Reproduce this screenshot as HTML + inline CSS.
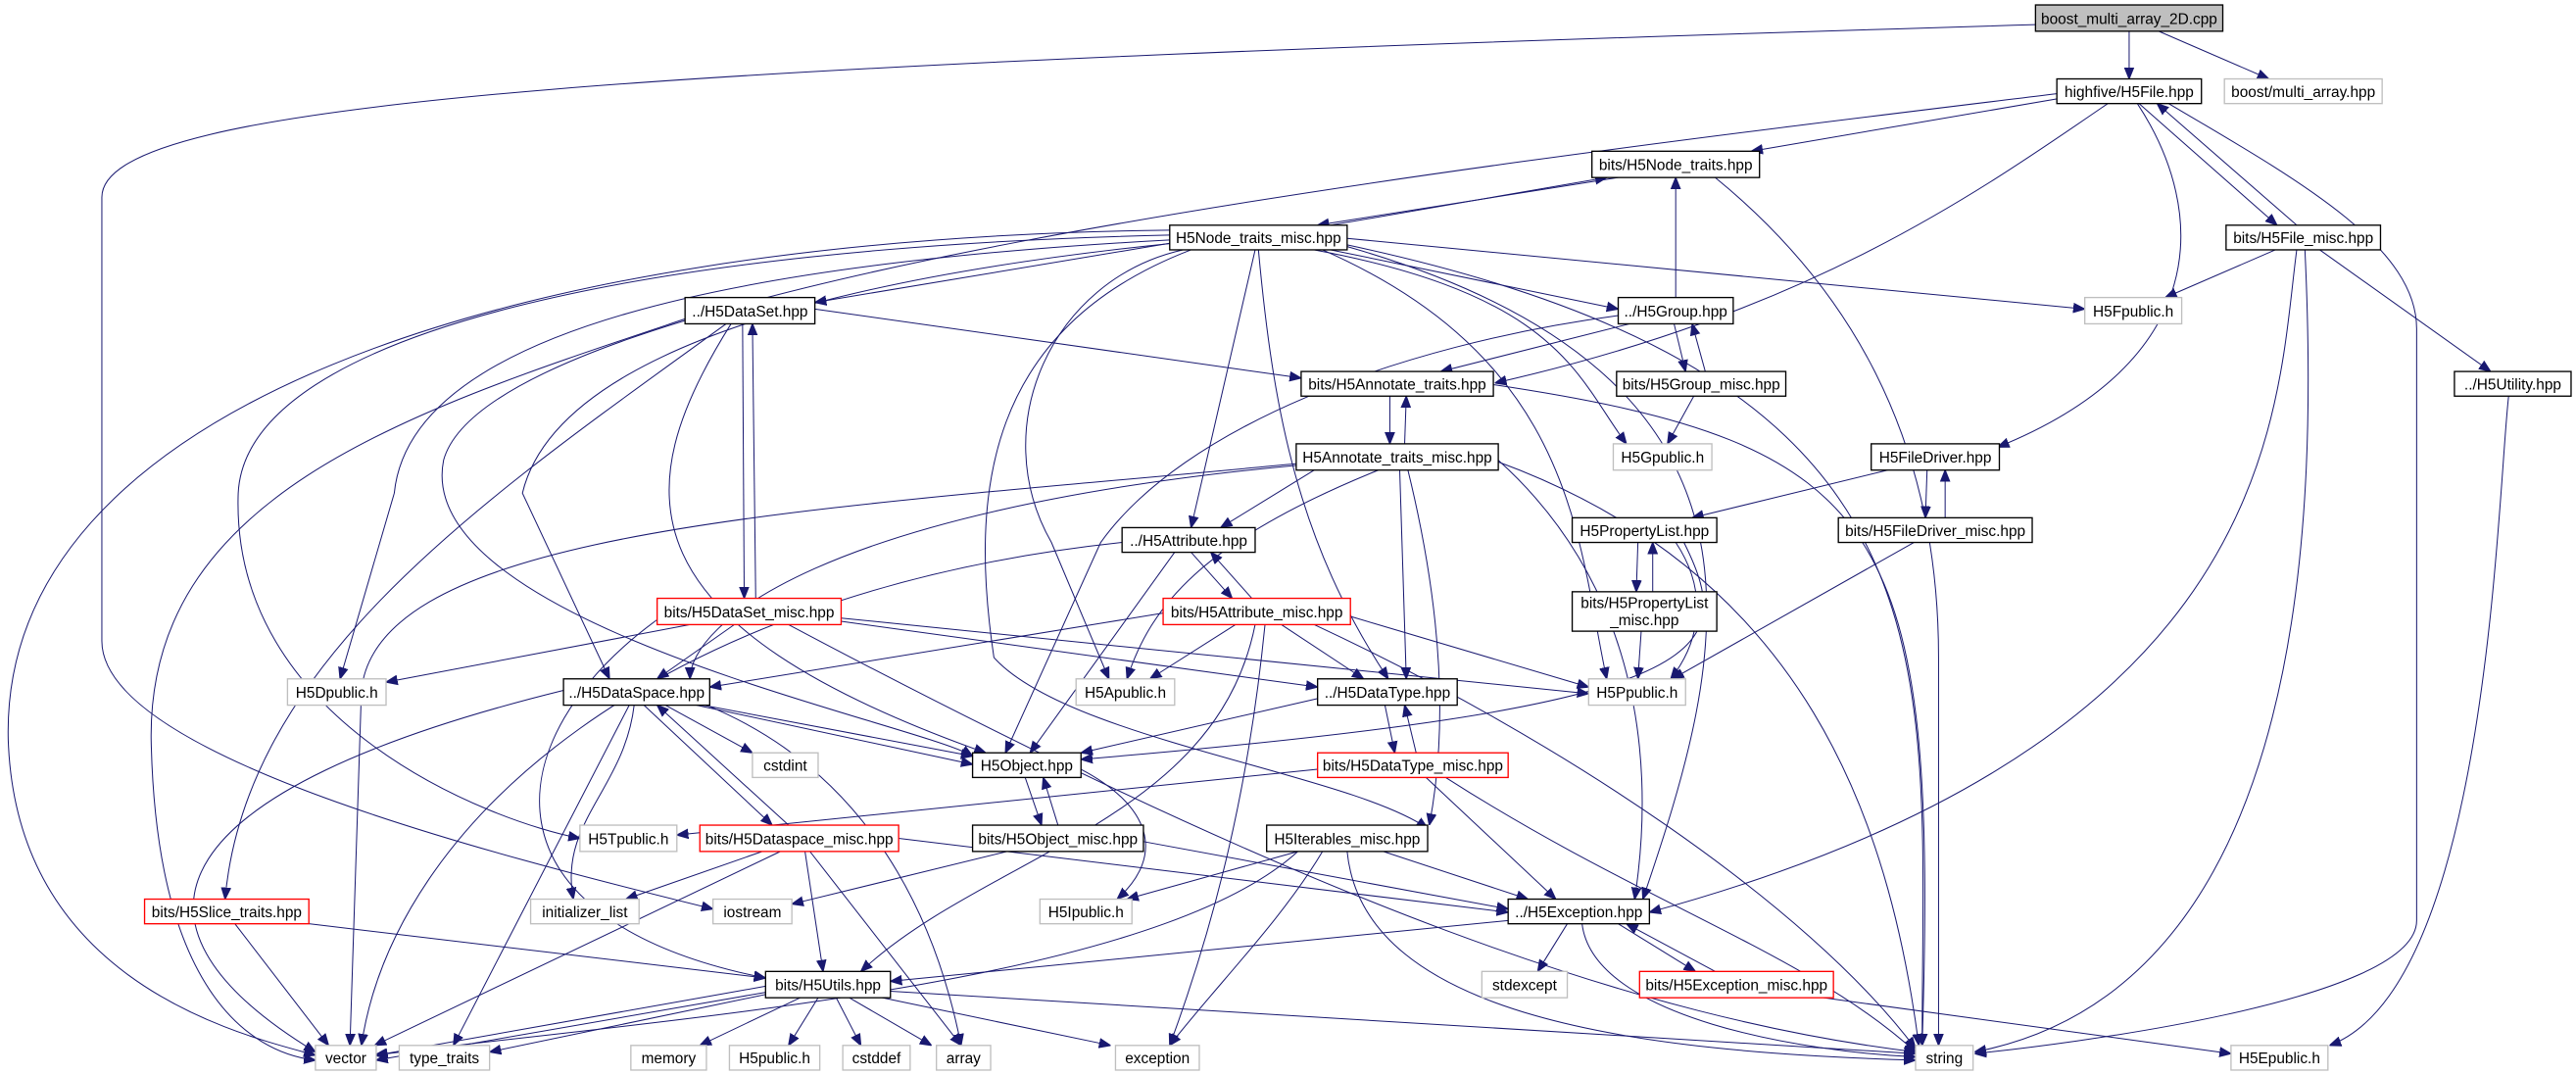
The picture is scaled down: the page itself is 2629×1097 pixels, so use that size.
<!DOCTYPE html>
<html><head><meta charset="utf-8"><style>
html,body{margin:0;padding:0;background:#fff;}
svg{display:block;}
text{font-family:"Liberation Sans",sans-serif;font-size:9.2px;fill:#000;text-anchor:middle;}
.e{fill:none;stroke:#191970;stroke-width:0.6;}
.n{fill:#fff;stroke:#000;stroke-width:0.8;}
.g{fill:#fff;stroke:#bfbfbf;stroke-width:0.8;}
.r{fill:#fff;stroke:#ff0000;stroke-width:0.8;}
</style></head><body>
<svg width="2629" height="1097" viewBox="0 0 1568 654" preserveAspectRatio="none" xmlns="http://www.w3.org/2000/svg">
<defs><marker id="a" viewBox="0 0 10 10" refX="10" refY="5" markerWidth="7" markerHeight="7" orient="auto" markerUnits="userSpaceOnUse"><path d="M0,1 L10,5 L0,9 z" fill="#191970" stroke="#191970"/></marker></defs>
<g class="e" marker-end="url(#a)">
<path d="M1296,19 L1296,48"/>
<path d="M1314,19 L1381,48"/>
<path d="M1239,15 C400,40 62,60 62,120 L62,390 C62,460 300,520 434,553"/>
<path d="M1253,60 L1066,92"/>
<path d="M1252,57 C900,100 300,170 270,280 C250,380 560,440 592,460"/>
<path d="M1283,63 C1200,120 1100,190 910,233"/>
<path d="M1301,63 C1345,130 1345,220 1216,272"/>
<path d="M1302,63 L1386,137"/>
<path d="M1398,137 L1313,63"/>
<path d="M1320,63 C1400,110 1471,150 1471,200 L1471,560 C1471,610 1250,636 1202,641"/>
<path d="M985,108 L802,137"/>
<path d="M810,137 L978,108"/>
<path d="M1044,108 C1120,170 1180,260 1180,400 L1180,636"/>
<path d="M712,148 L496,184"/>
<path d="M810,152 L985,188"/>
<path d="M820,145 L1269,188"/>
<path d="M712,140 C300,145 0,250 5,450 C10,600 150,630 192,642"/>
<path d="M712,143 C400,150 150,200 145,300 C140,440 300,500 353,510"/>
<path d="M712,146 C450,160 250,200 240,300 L207,413"/>
<path d="M714,148 C400,180 330,250 318,300 L371,413"/>
<path d="M764,152 L725,321"/>
<path d="M766,152 C775,250 790,330 845,413"/>
<path d="M720,152 C640,170 600,260 640,330 L675,413"/>
<path d="M725,152 C600,200 590,300 605,400 C650,450 820,470 869,504"/>
<path d="M800,152 C950,180 960,230 990,270"/>
<path d="M805,152 C960,220 960,330 978,413"/>
<path d="M820,150 C1100,230 1050,400 1000,547"/>
<path d="M820,149 C1200,230 1170,400 1170,636"/>
<path d="M1385,152 L1318,181"/>
<path d="M1398,152 C1385,250 1390,450 1004,555"/>
<path d="M1403,152 C1410,300 1410,600 1202,640"/>
<path d="M1412,152 L1516,226"/>
<path d="M1527,241 C1520,300 1515,600 1418,636"/>
<path d="M1020,181 L1020,108"/>
<path d="M992,197 L877,226"/>
<path d="M985,192 C850,210 720,260 670,330 L612,458"/>
<path d="M1019,197 L1026,226"/>
<path d="M1038,226 L1030,197"/>
<path d="M1031,241 L1015,270"/>
<path d="M846,241 L846,270"/>
<path d="M855,270 L856,241"/>
<path d="M909,234 C1150,270 1180,320 1170,636"/>
<path d="M800,286 L743,321"/>
<path d="M790,283 C500,310 420,380 420,413"/>
<path d="M790,282 C500,310 230,320 220,420 L213,636"/>
<path d="M839,286 C730,330 700,370 686,413"/>
<path d="M852,286 L856,413"/>
<path d="M857,286 C880,380 880,450 870,502"/>
<path d="M912,280 C990,350 1010,450 995,547"/>
<path d="M912,281 C1100,350 1150,500 1168,636"/>
<path d="M1149,286 L1030,315"/>
<path d="M1173,286 L1172,315"/>
<path d="M1184,315 L1184,286"/>
<path d="M1165,330 L1018,413"/>
<path d="M997,330 L996,360"/>
<path d="M1006,360 L1006,330"/>
<path d="M1020,330 C1040,360 1035,390 1017,413"/>
<path d="M1025,330 C1060,400 1040,430 658,462"/>
<path d="M999,384 L997,413"/>
<path d="M496,188 L792,230"/>
<path d="M452,197 L453,364"/>
<path d="M460,364 L458,197"/>
<path d="M417,194 C250,250 90,300 92,450 C95,600 150,640 192,645"/>
<path d="M442,197 C300,300 150,400 137,547"/>
<path d="M445,197 C380,300 380,380 600,458"/>
<path d="M420,380 L235,415"/>
<path d="M447,380 L400,413"/>
<path d="M512,376 L967,422"/>
<path d="M512,378 L802,418"/>
<path d="M480,380 C800,550 1000,620 1166,640"/>
<path d="M400,377 C300,450 290,560 466,595"/>
<path d="M725,336 L750,364"/>
<path d="M762,364 L737,336"/>
<path d="M715,336 L627,458"/>
<path d="M683,330 C400,360 240,500 220,636"/>
<path d="M708,373 L432,418"/>
<path d="M752,380 L700,413"/>
<path d="M780,380 L830,413"/>
<path d="M822,375 L967,418"/>
<path d="M764,380 C740,500 600,520 524,591"/>
<path d="M800,380 C950,450 1100,550 1166,638"/>
<path d="M770,380 C760,480 740,560 712,636"/>
<path d="M428,429 L592,460"/>
<path d="M424,429 L592,465"/>
<path d="M405,429 L458,458"/>
<path d="M392,429 L470,502"/>
<path d="M480,502 L400,429"/>
<path d="M343,420 C100,480 60,560 192,640"/>
<path d="M383,429 L276,636"/>
<path d="M386,429 C380,480 340,500 349,547"/>
<path d="M430,429 C530,470 570,560 585,636"/>
<path d="M464,518 L381,547"/>
<path d="M475,518 L228,636"/>
<path d="M490,518 L501,591"/>
<path d="M493,518 L585,636"/>
<path d="M547,510 L918,555"/>
<path d="M624,473 L634,502"/>
<path d="M644,502 L635,473"/>
<path d="M658,468 C700,490 710,520 680,547"/>
<path d="M613,518 L482,550"/>
<path d="M696,512 L918,553"/>
<path d="M790,518 L686,547"/>
<path d="M842,518 L930,547"/>
<path d="M790,518 C700,600 400,620 228,642"/>
<path d="M805,518 C780,560 740,600 712,636"/>
<path d="M820,518 C830,620 1000,640 1166,645"/>
<path d="M802,425 L658,458"/>
<path d="M843,429 L849,458"/>
<path d="M862,458 L855,429"/>
<path d="M802,468 L412,508"/>
<path d="M868,473 L947,547"/>
<path d="M880,473 C1000,550 1100,580 1166,640"/>
<path d="M188,562 L466,595"/>
<path d="M143,562 L200,636"/>
<path d="M918,560 L542,597"/>
<path d="M954,562 L936,591"/>
<path d="M985,562 L1032,591"/>
<path d="M1044,591 L990,562"/>
<path d="M963,562 C970,620 1100,640 1166,643"/>
<path d="M1110,607 L1358,641"/>
<path d="M466,600 L229,642"/>
<path d="M470,603 L229,645"/>
<path d="M466,605 L298,640"/>
<path d="M487,607 L426,636"/>
<path d="M498,607 L480,636"/>
<path d="M509,607 L524,636"/>
<path d="M517,607 L567,636"/>
<path d="M537,607 L676,636"/>
<path d="M542,603 L1166,641"/>
</g>
<g>
<rect x="1239" y="3" width="114" height="16" fill="#bfbfbf" stroke="#000" stroke-width="0.8"/><text x="1296" y="14.5">boost_multi_array_2D.cpp</text>
<rect class="n" x="1252" y="48" width="88" height="15"/><text x="1296" y="59">highfive/H5File.hpp</text>
<rect class="g" x="1354" y="48" width="96" height="15"/><text x="1402" y="59">boost/multi_array.hpp</text>
<rect class="n" x="969" y="92" width="102" height="16"/><text x="1020" y="103.5">bits/H5Node_traits.hpp</text>
<rect class="n" x="712" y="137" width="108" height="15"/><text x="766" y="148">H5Node_traits_misc.hpp</text>
<rect class="n" x="1355" y="137" width="94" height="15"/><text x="1402" y="148">bits/H5File_misc.hpp</text>
<rect class="n" x="417" y="181" width="79" height="16"/><text x="456.5" y="192.5">../H5DataSet.hpp</text>
<rect class="n" x="985" y="181" width="70" height="16"/><text x="1020" y="192.5">../H5Group.hpp</text>
<rect class="g" x="1269" y="181" width="59" height="16"/><text x="1298.5" y="192.5">H5Fpublic.h</text>
<rect class="n" x="792" y="226" width="117" height="15"/><text x="850.5" y="237">bits/H5Annotate_traits.hpp</text>
<rect class="n" x="984" y="226" width="103" height="15"/><text x="1035.5" y="237">bits/H5Group_misc.hpp</text>
<rect class="n" x="1494" y="226" width="71" height="15"/><text x="1529.5" y="237">../H5Utility.hpp</text>
<rect class="n" x="789" y="270" width="123" height="16"/><text x="850.5" y="281.5">H5Annotate_traits_misc.hpp</text>
<rect class="g" x="982" y="270" width="60" height="16"/><text x="1012" y="281.5">H5Gpublic.h</text>
<rect class="n" x="1139" y="270" width="78" height="16"/><text x="1178" y="281.5">H5FileDriver.hpp</text>
<rect class="n" x="683" y="321" width="81" height="15"/><text x="723.5" y="332">../H5Attribute.hpp</text>
<rect class="n" x="957" y="315" width="88" height="15"/><text x="1001" y="326">H5PropertyList.hpp</text>
<rect class="n" x="1119" y="315" width="118" height="15"/><text x="1178" y="326">bits/H5FileDriver_misc.hpp</text>
<rect class="r" x="400" y="364" width="112" height="16"/><text x="456" y="375.5">bits/H5DataSet_misc.hpp</text>
<rect class="r" x="708" y="364" width="114" height="16"/><text x="765" y="375.5">bits/H5Attribute_misc.hpp</text>
<rect class="n" x="957" y="360" width="88" height="24"/><text x="1001" y="370">bits/H5PropertyList</text><text x="1001" y="380.5">_misc.hpp</text>
<rect class="g" x="175" y="413" width="60" height="16"/><text x="205" y="424.5">H5Dpublic.h</text>
<rect class="n" x="343" y="413" width="89" height="16"/><text x="387.5" y="424.5">../H5DataSpace.hpp</text>
<rect class="g" x="655" y="413" width="60" height="16"/><text x="685" y="424.5">H5Apublic.h</text>
<rect class="n" x="802" y="413" width="85" height="16"/><text x="844.5" y="424.5">../H5DataType.hpp</text>
<rect class="g" x="967" y="413" width="59" height="16"/><text x="996.5" y="424.5">H5Ppublic.h</text>
<rect class="g" x="458" y="458" width="40" height="15"/><text x="478" y="469">cstdint</text>
<rect class="n" x="592" y="458" width="66" height="15"/><text x="625" y="469">H5Object.hpp</text>
<rect class="r" x="802" y="458" width="116" height="15"/><text x="860" y="469">bits/H5DataType_misc.hpp</text>
<rect class="g" x="353" y="502" width="59" height="16"/><text x="382.5" y="513.5">H5Tpublic.h</text>
<rect class="r" x="426" y="502" width="121" height="16"/><text x="486.5" y="513.5">bits/H5Dataspace_misc.hpp</text>
<rect class="n" x="592" y="502" width="104" height="16"/><text x="644" y="513.5">bits/H5Object_misc.hpp</text>
<rect class="n" x="771" y="502" width="98" height="16"/><text x="820" y="513.5">H5Iterables_misc.hpp</text>
<rect class="r" x="88" y="547" width="100" height="15"/><text x="138" y="558">bits/H5Slice_traits.hpp</text>
<rect class="g" x="323" y="547" width="66" height="15"/><text x="356" y="558">initializer_list</text>
<rect class="g" x="434" y="547" width="48" height="15"/><text x="458" y="558">iostream</text>
<rect class="g" x="633" y="547" width="56" height="15"/><text x="661" y="558">H5Ipublic.h</text>
<rect class="n" x="918" y="547" width="86" height="15"/><text x="961" y="558">../H5Exception.hpp</text>
<rect class="n" x="466" y="591" width="76" height="16"/><text x="504" y="602.5">bits/H5Utils.hpp</text>
<rect class="g" x="902" y="591" width="52" height="16"/><text x="928" y="602.5">stdexcept</text>
<rect class="r" x="998" y="591" width="118" height="16"/><text x="1057" y="602.5">bits/H5Exception_misc.hpp</text>
<rect class="g" x="192" y="636" width="37" height="15"/><text x="210.5" y="647">vector</text>
<rect class="g" x="243" y="636" width="55" height="15"/><text x="270.5" y="647">type_traits</text>
<rect class="g" x="384" y="636" width="46" height="15"/><text x="407" y="647">memory</text>
<rect class="g" x="444" y="636" width="55" height="15"/><text x="471.5" y="647">H5public.h</text>
<rect class="g" x="513" y="636" width="41" height="15"/><text x="533.5" y="647">cstddef</text>
<rect class="g" x="570" y="636" width="33" height="15"/><text x="586.5" y="647">array</text>
<rect class="g" x="679" y="636" width="51" height="15"/><text x="704.5" y="647">exception</text>
<rect class="g" x="1166" y="636" width="35" height="15"/><text x="1183.5" y="647">string</text>
<rect class="g" x="1358" y="636" width="59" height="15"/><text x="1387.5" y="647">H5Epublic.h</text>
</g>
</svg>
</body></html>
